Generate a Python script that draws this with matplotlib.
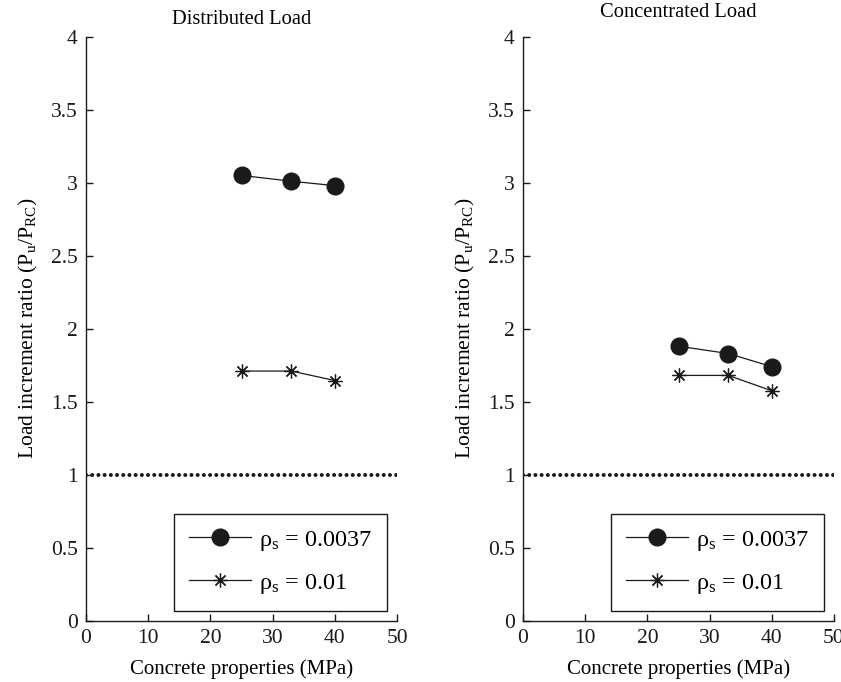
import matplotlib
matplotlib.use("Agg")
import matplotlib.pyplot as plt

plt.rcParams["font.family"] = ["Liberation Serif", "DejaVu Serif"]
plt.rcParams["mathtext.fontset"] = "custom"
plt.rcParams["mathtext.rm"] = "Liberation Serif"
plt.rcParams["mathtext.it"] = "Liberation Serif:italic"

# Concrete strength (MPa)
strength = [25, 33, 40]

# Load increment ratio Pu/PRC
dist_rho_low = [3.05, 3.01, 2.98]
dist_rho_high = [1.71, 1.71, 1.645]
conc_rho_low = [1.88, 1.83, 1.74]
conc_rho_high = [1.68, 1.68, 1.575]

titles = ["Distributed Load", "Concentrated Load"]
series = [(dist_rho_low, dist_rho_high), (conc_rho_low, conc_rho_high)]
labels = [r"$\mathregular{\rho_s}$ = 0.0037", r"$\mathregular{\rho_s}$ = 0.01"]

xticks = [0, 10, 20, 30, 40, 50]
yticks = [0, 0.5, 1, 1.5, 2, 2.5, 3, 3.5, 4]
ytick_labels = ["0", "0.5", "1", "1.5", "2", "2.5", "3", "3.5", "4"]

fig = plt.figure(figsize=(8.41, 6.82), dpi=100)
lefts = [86 / 841, 523 / 841]
bottom = 1 - 620.7 / 682
height = 584 / 682
width = 311 / 841

asterisk = (8, 2, 0)
ink = "#1a1a1a"

for i in range(2):
    ax = fig.add_axes([lefts[i], bottom, width, height])
    low, high = series[i]
    ax.plot(strength, low, color=ink, lw=0.9, marker="o", ms=12,
            mfc=ink, mec=ink, label=labels[0])
    ax.plot(strength, high, color=ink, lw=0.9, marker=asterisk, ms=10,
            mew=0.9, mec=ink, label=labels[1])
    # reference ratio of 1.0
    ax.axhline(1.0, color=ink, lw=2.9, ls=(0, (0.01, 1.53)),
               dash_capstyle="round", zorder=1)

    ax.set_xlim(0, 50)
    ax.set_ylim(0, 4)
    ax.set_xticks(xticks)
    ax.set_yticks(yticks)
    ax.set_yticklabels(ytick_labels)
    ax.spines["top"].set_visible(False)
    ax.spines["right"].set_visible(False)
    for s in ("left", "bottom"):
        ax.spines[s].set_linewidth(1.0)
        ax.spines[s].set_color(ink)
    ax.tick_params(direction="in", length=5, width=1.0, labelsize=15.5,
                   colors=ink, pad=6)
    ax.set_title(titles[i], fontsize=14.8, pad=(9 if i == 0 else 14))
    ax.set_xlabel("Concrete properties (MPa)", fontsize=15, labelpad=8)
    ax.set_ylabel(r"Load increment ratio (P$_\mathregular{u}$/P$_\mathregular{RC}$)",
                  fontsize=15.6, labelpad=8)
    leg = ax.legend(loc="lower right", bbox_to_anchor=(0.968, 0.017),
                    borderaxespad=0, fontsize=17.5, handlelength=2.55,
                    fancybox=False, framealpha=1, edgecolor=ink,
                    borderpad=0.62, labelspacing=0.78, handletextpad=0.3)
    leg.get_frame().set_linewidth(1.0)

fig.savefig("out.png", dpi=100)
